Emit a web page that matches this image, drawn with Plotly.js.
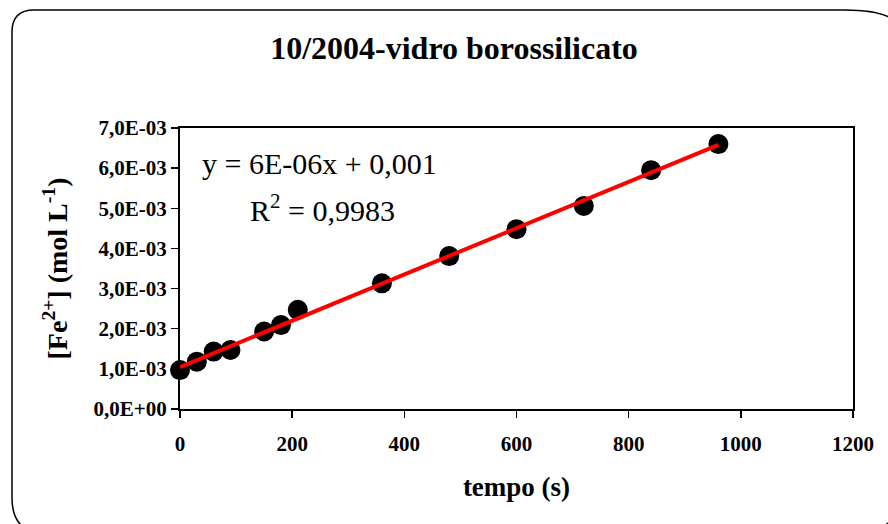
<!DOCTYPE html>
<html>
<head>
<meta charset="utf-8">
<script src="https://cdn.plot.ly/plotly-3.0.1.min.js"></script>
<style>html,body{margin:0;padding:0;background:#fff;}#chart{width:888px;height:524px;}</style>
</head>
<body>
<div id="chart"></div>
<script>
// Data
const tempo = [0, 30, 60, 90, 150, 180, 210, 360, 480, 600, 720, 840, 960];
const fe2 = [0.97e-3, 1.18e-3, 1.43e-3, 1.47e-3, 1.93e-3, 2.09e-3, 2.47e-3, 3.13e-3, 3.81e-3, 4.48e-3, 5.06e-3, 5.95e-3, 6.60e-3];
const yTickVals = [0, 1e-3, 2e-3, 3e-3, 4e-3, 5e-3, 6e-3, 7e-3];
const yTickText = ["0,0E+00", "1,0E-03", "2,0E-03", "3,0E-03", "4,0E-03", "5,0E-03", "6,0E-03", "7,0E-03"];
const xTickVals = [0, 200, 400, 600, 800, 1000, 1200];
const xTickText = ["0", "200", "400", "600", "800", "1000", "1200"];
const eqText = "y = 6E-06x + 0,001";
const r2Text = "R<sup>2</sup> = 0,9983";

// Linear least-squares trendline (as the spreadsheet's trendline)
const n = tempo.length;
const mx = tempo.reduce((a, b) => a + b, 0) / n;
const my = fe2.reduce((a, b) => a + b, 0) / n;
let sxy = 0, sxx = 0;
for (let i = 0; i < n; i++) { sxy += (tempo[i] - mx) * (fe2[i] - my); sxx += (tempo[i] - mx) ** 2; }
const slope = sxy / sxx, icpt = my - slope * mx;
const trendX = [tempo[0], tempo[n - 1]];
const trendY = trendX.map(x => icpt + slope * x);

const W = 888, H = 524;
const M = {l: 180, r: 35, t: 128, b: 115};
const PW = W - M.l - M.r, PH = H - M.t - M.b;
const px = x => ((x - M.l) / PW).toFixed(5);
const py = y => (1 - (y - M.t) / PH).toFixed(5);
const P = (x, y) => `${px(x)},${py(y)}`;

// Rounded outer frame (partly cut by the picture edges)
const framePath =
  `M${P(34, 10)} L${P(845, 10)} Q${P(905, 10)} ${P(905, 40)} ` +
  `L${P(905, 480)} Q${P(905, 534)} ${P(850, 534)} L${P(48, 534)} ` +
  `Q${P(12, 534)} ${P(12, 498)} L${P(12, 32)} Q${P(12, 10)} ${P(34, 10)} Z`;

const serif = "Times New Roman, Liberation Serif, serif";

const traces = [
  {x: tempo, y: fe2, type: "scatter", mode: "markers",
   marker: {color: "#000", size: 20, line: {width: 0}}, hoverinfo: "x+y", showlegend: false, cliponaxis: false},
  {x: trendX, y: trendY, type: "scatter", mode: "lines",
   line: {color: "#ff0000", width: 4}, hoverinfo: "skip", showlegend: false}
];

const layout = {
  width: W, height: H,
  margin: M,
  paper_bgcolor: "#fff", plot_bgcolor: "#fff",
  font: {family: serif, color: "#000"},
  title: {text: "<b>10/2004-vidro borossilicato</b>", font: {family: serif, size: 32, color: "#000"},
          x: 454 / W, xref: "container", xanchor: "center", y: 1 - 48 / H, yref: "container", yanchor: "middle"},
  xaxis: {range: [0, 1200], tickvals: xTickVals, ticktext: xTickText, showgrid: false, zeroline: false,
          showline: true, linecolor: "#000", linewidth: 2, mirror: true,
          ticks: "outside", ticklen: 7, tickwidth: 1.5, tickcolor: "#000", ticklabelstandoff: 8,
          tickfont: {family: serif, size: 21, color: "#000", weight: "bold"},
          title: {text: "<b>tempo (s)</b>", font: {family: serif, size: 27, color: "#000"}, standoff: 22}},
  yaxis: {range: [0, 7e-3], tickvals: yTickVals, ticktext: yTickText, showgrid: false, zeroline: false,
          showline: true, linecolor: "#000", linewidth: 2, mirror: true,
          ticks: "outside", ticklen: 7, tickwidth: 1.5, tickcolor: "#000",
          tickfont: {family: serif, size: 21, color: "#000", weight: "bold"},
          title: {text: "<b>[Fe<sup>2+</sup>] (mol L<sup>-1</sup>)</b>", font: {family: serif, size: 28, color: "#000"}, standoff: 18}},
  shapes: [{type: "path", xref: "paper", yref: "paper", path: framePath, line: {color: "#000", width: 1.5}, layer: "below"}],
  annotations: [
    {text: eqText, xref: "paper", yref: "paper", x: px(320), y: py(163), xanchor: "center", yanchor: "middle",
     showarrow: false, font: {family: serif, size: 30, color: "#000"}},
    {text: r2Text, xref: "paper", yref: "paper", x: px(323), y: py(208), xanchor: "center", yanchor: "middle",
     showarrow: false, font: {family: serif, size: 30, color: "#000"}}
  ]
};

Plotly.newPlot("chart", traces, layout, {displayModeBar: false, staticPlot: true});
</script>
</body>
</html>
